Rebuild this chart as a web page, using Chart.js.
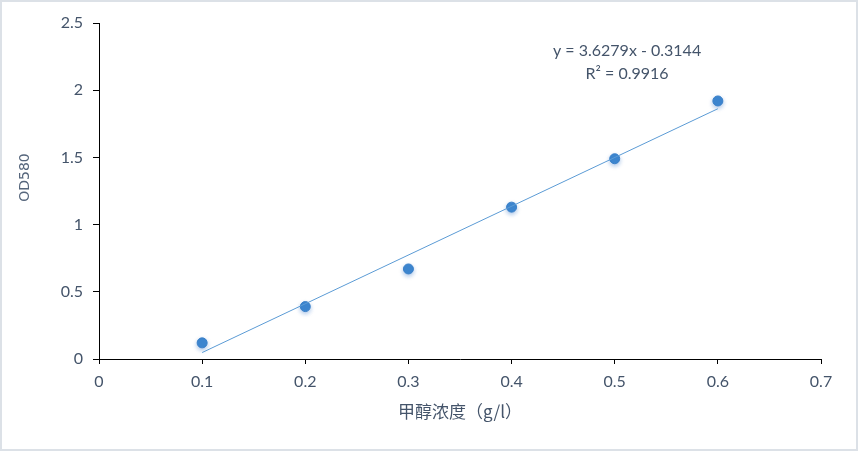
<!DOCTYPE html>
<html>
<head>
<meta charset="utf-8">
<script src="https://cdn.jsdelivr.net/npm/chart.js@4"></script>
<style>
  html, body { margin: 0; padding: 0; background: #fff; }
  .wrap { width: 858px; height: 451px; box-sizing: border-box; border: 2px solid #dce1e7; }
  canvas { display: block; }
</style>
</head>
<body>
<div class="wrap"><canvas id="myChart" width="854" height="447"></canvas></div>
<script>
const concentration = [0.1, 0.2, 0.3, 0.4, 0.5, 0.6];
const od580 = [0.12, 0.39, 0.67, 1.13, 1.49, 1.92];
// fitted line as shown in the picture, start and end
const trendX = [0.1, 0.6];
const trendY = [0.048, 1.862];
const equationLines = ['y = 3.6279x - 0.3144', 'R² = 0.9916'];
const yTitle = 'OD580';

const textColor = '#44546a';

const shadowPlugin = {
    id: 'pointShadow',
    beforeDatasetDraw (chart, args) {
        if (args.index !== 1) return;
        const ctx = chart.ctx;
        ctx.save();
        ctx.shadowColor = 'rgba(60, 120, 200, 0.4)';
        ctx.shadowBlur = 4;
        ctx.shadowOffsetY = 2;
    },
    afterDatasetDraw (chart, args) {
        if (args.index !== 1) return;
        chart.ctx.restore();
    },
};

const textPlugin = {
    id: 'extraText',
    afterDraw (chart) {
        const { ctx, scales } = chart;
        const x = scales.x.getPixelForValue(0.512);
        const y = scales.y.getPixelForValue(2.293);
        ctx.save();
        ctx.fillStyle = textColor;
        ctx.font = '16px Lato';
        ctx.textAlign = 'center';
        ctx.textBaseline = 'middle';
        equationLines.forEach((line, i) => ctx.fillText(line, x, y + i * 23));
        // y axis title, Excel puts it a bit above the middle
        ctx.translate(scales.y.left + 23, scales.y.getPixelForValue(1.35));
        ctx.rotate(-Math.PI / 2);
        ctx.fillStyle = '#56667c';
        ctx.font = '14px "DejaVu Sans"';
        ctx.fillText(yTitle, 0, 0);
        ctx.restore();
    },
};

const dataChart = {
    datasets: [
        {
            type: 'line',
            data: trendX.map((x, i) => ({ x, y: trendY[i] })),
            borderColor: '#5b9bd5',
            borderWidth: 1,
            pointRadius: 0,
            fill: false,
        },
        {
            type: 'scatter',
            data: concentration.map((x, i) => ({ x, y: od580[i] })),
            backgroundColor: '#3d86cf',
            borderColor: '#3a80c8',
            borderWidth: 1,
            pointRadius: 5,
        },
    ],
};

const configChart = {
    type: 'scatter',
    data: dataChart,
    options: {
        responsive: false,
        animation: false,
        layout: { padding: { left: 0, right: 35, top: 21, bottom: 0 } },
        plugins: { legend: { display: false }, tooltip: { enabled: false } },
        scales: {
            x: {
                type: 'linear',
                min: 0,
                max: 0.7,
                border: { color: '#000', width: 1 },
                grid: { drawOnChartArea: false, color: '#000', tickLength: 5 },
                ticks: {
                    stepSize: 0.1,
                    padding: 8,
                    color: textColor,
                    font: { family: 'Lato', size: 16 },
                    callback: v => Math.round(v * 10) / 10,
                },
                title: {
                    display: true,
                    text: '甲醇浓度（g/l）',
                    color: textColor,
                    font: { family: 'Noto Sans CJK SC', size: 17 },
                    padding: { bottom: 27 },
                },
                afterFit: scale => { scale.height = 90; },
            },
            y: {
                min: 0,
                max: 2.5,
                border: { color: '#000', width: 1 },
                grid: { drawOnChartArea: false, color: '#000', tickLength: 6 },
                ticks: {
                    stepSize: 0.5,
                    padding: 10,
                    color: textColor,
                    font: { family: 'Lato', size: 16 },
                    callback: v => Math.round(v * 10) / 10,
                },
                afterFit: scale => { scale.width = 97; },
            },
        },
    },
    plugins: [shadowPlugin, textPlugin],
};

const myChart = new Chart(document.getElementById('myChart'), configChart);
</script>
</body>
</html>
